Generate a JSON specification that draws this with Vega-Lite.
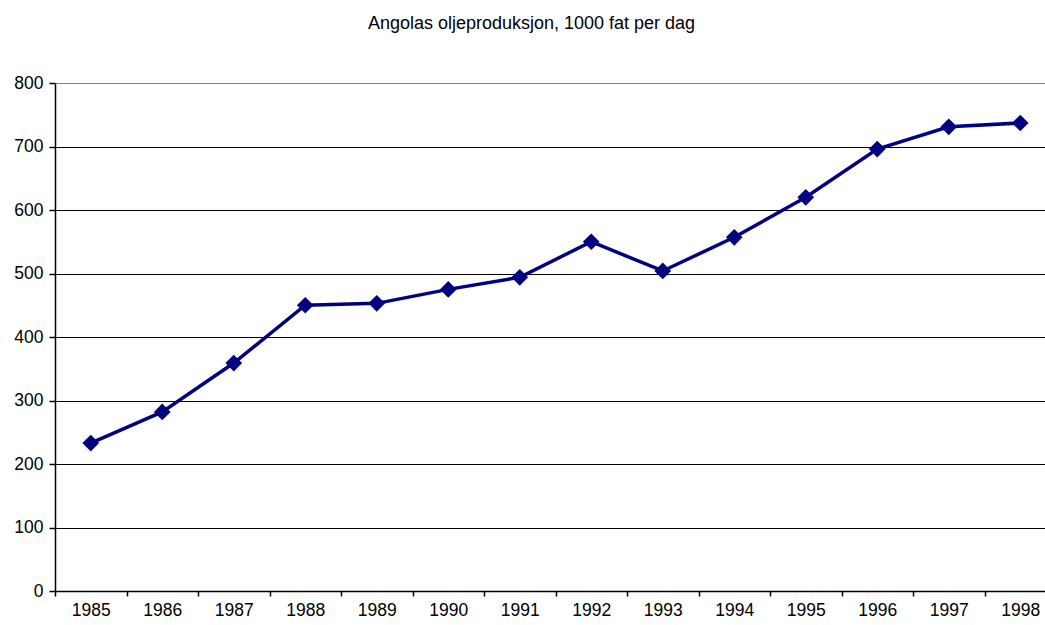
{
  "$schema": "https://vega.github.io/schema/vega-lite/v6.json",
  "autosize": {"type": "none"},
  "padding": {"left": 55, "top": 83, "right": 0, "bottom": 34},
  "width": 1001,
  "height": 508,
  "background": "white",
  "config": {"view": {"stroke": null}, "font": "Liberation Sans"},
  "title": {"text": "Angolas oljeproduksjon, 1000 fat per dag", "fontSize": 18, "fontWeight": "normal", "font": "Liberation Sans", "color": "#000000", "anchor": "middle", "dx": -24, "offset": 41},
  "data": {"values": [
    {"year": "1985", "value": 233},
    {"year": "1986", "value": 282},
    {"year": "1987", "value": 359},
    {"year": "1988", "value": 450},
    {"year": "1989", "value": 453},
    {"year": "1990", "value": 475},
    {"year": "1991", "value": 494},
    {"year": "1992", "value": 550},
    {"year": "1993", "value": 504},
    {"year": "1994", "value": 557},
    {"year": "1995", "value": 620},
    {"year": "1996", "value": 696},
    {"year": "1997", "value": 731},
    {"year": "1998", "value": 737}
  ]},
  "encoding": {
    "x": {"field": "year", "type": "ordinal", "title": null,
      "scale": {"paddingInner": 0, "paddingOuter": 0},
      "axis": {"labelAngle": 0, "labelFontSize": 17.5, "labelColor": "#000000", "labelPadding": 5, "tickBand": "extent", "tickSize": 5, "tickColor": "#000000", "domainColor": "#000000", "domainWidth": 1.5, "tickWidth": 1.5, "grid": false, "labelFont": "Liberation Sans"}},
    "y": {"field": "value", "type": "quantitative", "title": null,
      "scale": {"domain": [0, 800], "nice": false},
      "axis": {"values": [0, 100, 200, 300, 400, 500, 600, 700, 800], "labelFontSize": 17.5, "labelColor": "#000000", "labelPadding": 6, "tickSize": 6, "tickColor": "#000000", "domainColor": "#000000", "domainWidth": 1.5, "tickWidth": 1.5, "grid": true, "gridColor": {"condition": {"test": "datum.value == 800", "value": "#808080"}, "value": "#000000"}, "gridOpacity": 1, "gridWidth": 1, "labelFont": "Liberation Sans"}}
  },
  "layer": [
    {"mark": {"type": "line", "color": "#000080", "strokeWidth": 3.5}},
    {"mark": {"type": "point", "shape": "diamond", "filled": true, "color": "#000080", "size": 280, "opacity": 1}}
  ]
}
